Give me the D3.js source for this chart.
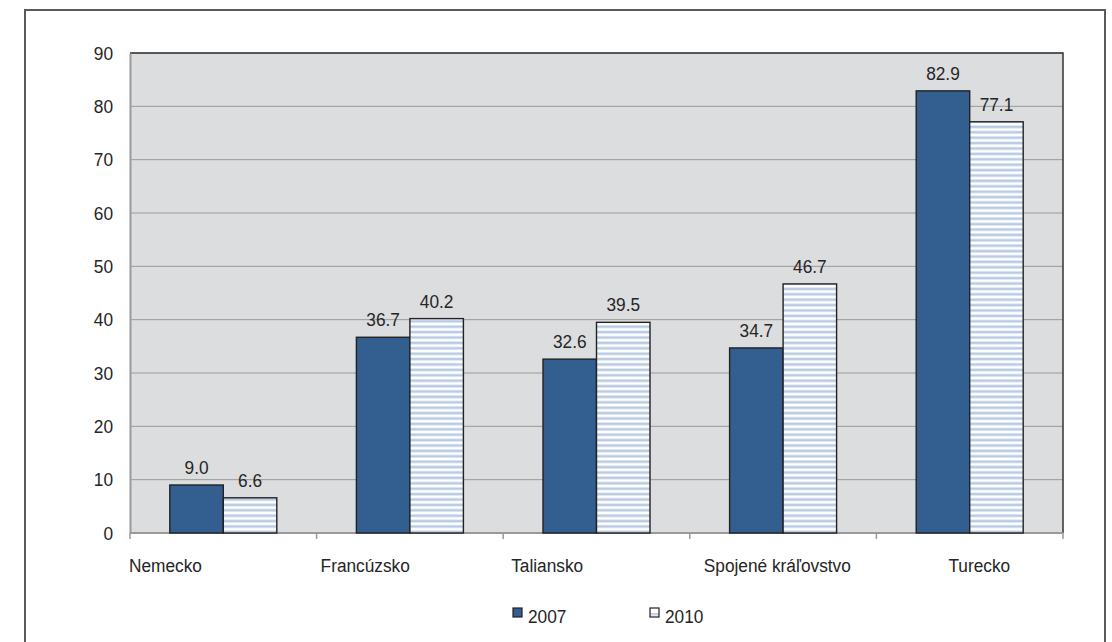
<!DOCTYPE html>
<html>
<head>
<meta charset="utf-8">
<script src="https://cdn.jsdelivr.net/npm/d3@7/dist/d3.min.js"></script>
<style>
  html, body { margin: 0; padding: 0; background: #fff; }
  svg { display: block; }
  text { font-family: "Liberation Sans", Arial, sans-serif; fill: #252525; }
</style>
</head>
<body>
<svg id="chart" width="1112" height="642"></svg>
<script>
// Countries and yearly values
const categories = ["Nemecko", "Francúzsko", "Taliansko", "Spojené kráľovstvo", "Turecko"];
const series = ["2007", "2010"];
const values2007 = [9.0, 36.7, 32.6, 34.7, 82.9];
const values2010 = [6.6, 40.2, 39.5, 46.7, 77.1];
const yTicks = [0, 10, 20, 30, 40, 50, 60, 70, 80, 90];

const valuesBySeries = { "2007": values2007, "2010": values2010 };

const svg = d3.select("#chart");

// Slightly condensed text
const FONT = 18;
const SX = 0.96;
function addText(sel, x, y, str, anchor) {
  return sel.append("text")
    .attr("transform", `translate(${x},${y}) scale(${SX},1)`)
    .attr("text-anchor", anchor || "start")
    .style("font-size", FONT + "px")
    .text(str);
}

// Outer frame
svg.append("rect")
  .attr("x", 25).attr("y", 10)
  .attr("width", 1080).attr("height", 660)
  .attr("fill", "#fff").attr("stroke", "#5a5a5a").attr("stroke-width", 2);

// Hatched fill for the 2010 series
const defs = svg.append("defs");
const pat = defs.append("pattern")
  .attr("id", "stripes").attr("patternUnits", "userSpaceOnUse")
  .attr("width", 8).attr("height", 5.4);
pat.append("rect").attr("width", 8).attr("height", 5.4).attr("fill", "#ffffff");
pat.append("rect").attr("y", 1.4).attr("width", 8).attr("height", 2.6).attr("fill", "#b9cbe3");

const legendGrad = defs.append("linearGradient")
  .attr("id", "legendFill").attr("x1", 0).attr("y1", 0).attr("x2", 0).attr("y2", 1);
legendGrad.append("stop").attr("offset", "0%").attr("stop-color", "#ffffff");
legendGrad.append("stop").attr("offset", "50%").attr("stop-color", "#ffffff");
legendGrad.append("stop").attr("offset", "60%").attr("stop-color", "#b9cbe3");
legendGrad.append("stop").attr("offset", "100%").attr("stop-color", "#ffffff");

const colors = { "2007": "#335e90", "2010": "url(#stripes)" };

const plot = { left: 130, right: 1063, top: 53, bottom: 533 };

const x0 = d3.scaleBand().domain(categories).range([plot.left, plot.right]).padding(0);
const x1 = d3.scaleBand().domain(series).range([0, x0.bandwidth()])
  .paddingInner(0).paddingOuter(0.744);
const y = d3.scaleLinear().domain([0, 90]).range([plot.bottom, plot.top]);

// Plot background
svg.append("rect")
  .attr("x", plot.left).attr("y", plot.top)
  .attr("width", plot.right - plot.left).attr("height", plot.bottom - plot.top)
  .attr("fill", "#dcdddf");

// Gridlines
svg.append("g").selectAll("line").data(yTicks.filter(t => t > 0)).join("line")
  .attr("x1", plot.left).attr("x2", plot.right)
  .attr("y1", d => y(d)).attr("y2", d => y(d))
  .attr("stroke", "#9a9a9a").attr("stroke-width", 1);

// Plot border: dark on top and right
svg.append("path")
  .attr("d", `M${plot.left},${plot.top}H${plot.right}V${plot.bottom}`)
  .attr("fill", "none").attr("stroke", "#333").attr("stroke-width", 1.5);

// Y axis line and labels
const yAxis = d3.axisLeft(y).tickValues(yTicks).tickSize(0).tickFormat("");
const gy = svg.append("g").attr("transform", `translate(${plot.left},0)`).call(yAxis);
gy.select(".domain").attr("stroke", "#9a9a9a").attr("stroke-width", 2);
const gyl = svg.append("g");
yTicks.forEach(t => addText(gyl, plot.left - 17, y(t) + 6.5, String(t), "end"));

// X axis: ticks at category boundaries
const boundaries = categories.map(c => x0(c)).concat([plot.right]);
svg.append("line")
  .attr("x1", plot.left).attr("x2", plot.right)
  .attr("y1", plot.bottom).attr("y2", plot.bottom)
  .attr("stroke", "#9a9a9a").attr("stroke-width", 2);
svg.append("g").selectAll("line").data(boundaries).join("line")
  .attr("x1", d => d).attr("x2", d => d)
  .attr("y1", plot.bottom).attr("y2", plot.bottom + 6)
  .attr("stroke", "#9a9a9a").attr("stroke-width", 1.5);

// Category labels, start-aligned relative to each band
const labelShift = [-1, 4, 8, 14, 72];
const gx = svg.append("g");
categories.forEach((c, i) => addText(gx, x0(c) + labelShift[i], 572, c, "start"));

// Bars
const groups = svg.append("g").selectAll("g").data(categories).join("g")
  .attr("transform", d => `translate(${x0(d)},0)`);

groups.selectAll("rect")
  .data((d, i) => series.map(s => ({ s, v: valuesBySeries[s][i] })))
  .join("rect")
  .attr("x", d => x1(d.s))
  .attr("y", d => y(d.v))
  .attr("width", x1.bandwidth())
  .attr("height", d => y(0) - y(d.v))
  .attr("fill", d => colors[d.s])
  .attr("stroke", "#222").attr("stroke-width", 1.4);

// Value labels
groups.each(function (c, i) {
  const g = d3.select(this);
  series.forEach(s => {
    const v = valuesBySeries[s][i];
    addText(g, x1(s) + x1.bandwidth() / 2, y(v) - 11, v.toFixed(1), "middle");
  });
});

// Legend
const legendPos = [{ s: "2007", x: 513 }, { s: "2010", x: 650 }];
const lg = svg.append("g").selectAll("g").data(legendPos).join("g")
  .attr("transform", d => `translate(${d.x},608)`);
lg.append("rect")
  .attr("width", 9).attr("height", 9)
  .attr("fill", d => d.s === "2007" ? colors["2007"] : "url(#legendFill)")
  .attr("stroke", "#222").attr("stroke-width", 1.2);
lg.each(function (d) { addText(d3.select(this), 15, 15, d.s, "start"); });
</script>
</body>
</html>
